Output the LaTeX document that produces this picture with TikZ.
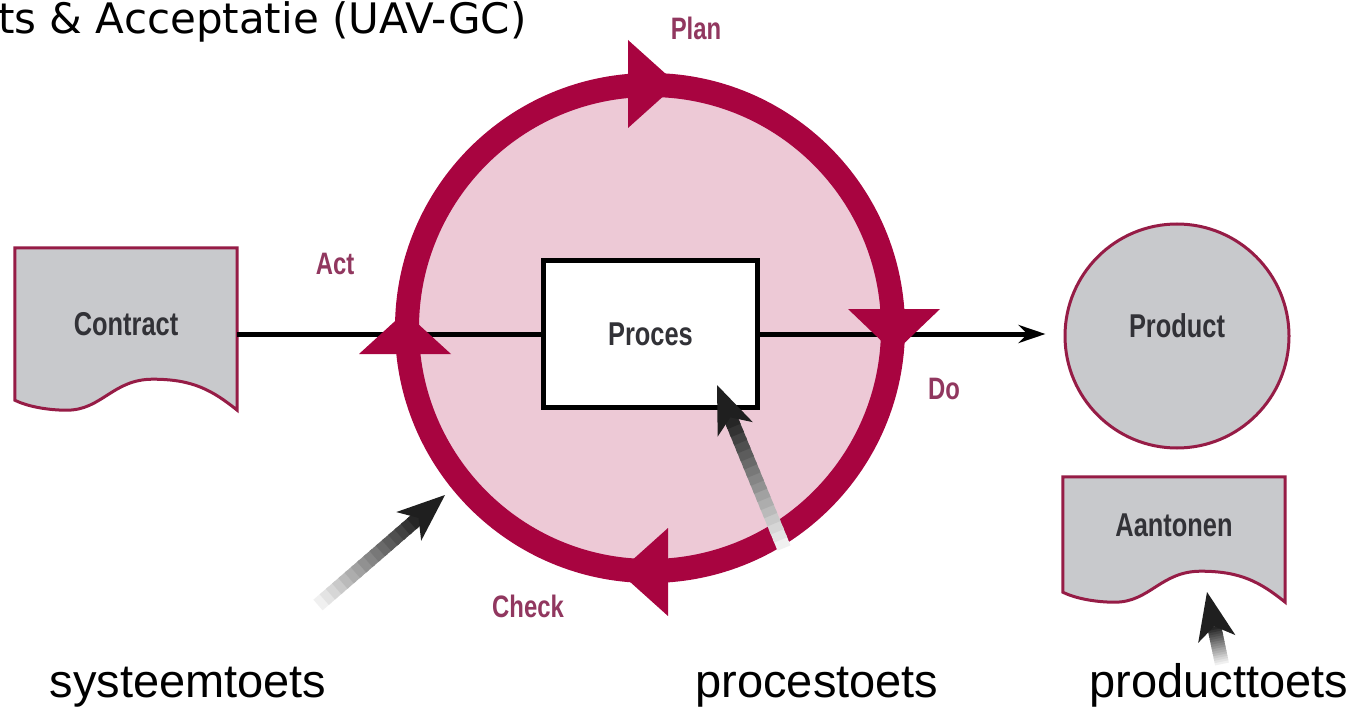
\documentclass[tikz,border=0pt]{standalone}
\usepackage{fontspec}
\setmainfont{Liberation Sans}
\newfontfamily\condfont[FakeStretch=0.77]{Liberation Sans}
\newfontfamily\titelfont{DejaVu Sans}
\usetikzlibrary{arrows.meta,calc,backgrounds}

\definecolor{pdcarood}{RGB}{168,4,64}
\definecolor{schijfroze}{RGB}{237,201,214}
\definecolor{docgrijs}{RGB}{200,201,204}
\definecolor{docrand}{RGB}{150,28,70}
\definecolor{tekstgrijs}{RGB}{50,50,55}
\definecolor{fasekleur}{RGB}{145,55,95}

\tikzset{
  docvorm/.style={fill=docgrijs, draw=docrand, line width=3pt},
  vaklabel/.style={font=\condfont\bfseries\fontsize{33}{36}\selectfont, text=tekstgrijs, inner sep=0pt},
  fase/.style={font=\condfont\bfseries\fontsize{31}{34}\selectfont, text=fasekleur, inner sep=0pt},
  toets/.style={font=\fontsize{47}{52}\selectfont, inner sep=0pt, anchor=base},
}

% document met golvende onderkant
\newcommand{\tekendoc}[1]{%
  \draw[docvorm] (#1.north west) -- (#1.north east) -- ($(#1.south east)+(0,10)$)
    .. controls +(-25,-20) and +(40,0) .. ($(#1.south west)+(138,-21)$)
    .. controls +(-40,0) and +(35,0) .. ($(#1.south west)+(52,10)$)
    .. controls +(-20,0) and +(12,6) .. (#1.south west) -- cycle;}

\begin{document}
\begin{tikzpicture}[x=1pt,y=-1pt,
    ringlijn/.style={draw=pdcarood, line width=24pt},
    lijn/.style={line width=5pt},
    schacht/.style={line width=14pt}]
  \useasboundingbox (0,0) rectangle (1359,711);

  \coordinate (centre) at (650,328);

  % vakken
  \node[vaklabel, minimum width=222pt, minimum height=152pt] (contract) at (126,324) {Contract};
  \node[vaklabel, minimum width=222pt, minimum height=115pt, text depth=18pt] (aantonen) at (1174,534.5) {Aantonen};
  \node[vaklabel, draw=black, fill=white, line width=5pt, minimum width=214pt, minimum height=146pt] (proces) at (650.5,334) {Proces};
  \node[vaklabel, circle, draw=docrand, fill=docgrijs, line width=3pt, minimum size=224pt, text depth=20pt] (product) at (1177,336) {Product};

  \begin{scope}[on background layer]
    \fill[white] (0,0) rectangle (1359,711);
    \fill[schijfroze] (centre) circle[radius=240];
    \tekendoc{contract}
    \tekendoc{aantonen}
  \end{scope}

  % doorgaande lijn
  \draw[lijn] (proces.west -| contract.east) -- (proces.west);
  \draw[lijn, -{Stealth[length=27pt,width=18pt]}, shorten >=18pt] (proces.east) -- (proces.east -| product.west);

  % PDCA-cirkel
  \draw[ringlijn] (centre) circle[radius=243];
  \fill[pdcarood] (628,40) -- (677,84) -- (628,128) -- cycle;
  \fill[pdcarood] (848,309) -- (940,309) -- (894,353) -- cycle;
  \fill[pdcarood] (668,528) -- (668,616) -- (619,572) -- cycle;
  \fill[pdcarood] (359,354) -- (405,312) -- (451,354) -- cycle;

  \node[fase] (plan) at (696,28) {Plan};
  \node[fase] (do) at (944,389) {Do};
  \node[fase] (check) at (528,606) {Check};
  \node[fase] (act) at (335,264) {Act};

  \node[font=\titelfont\fontsize{42}{45}\selectfont, anchor=base west, inner sep=0pt] (titel) at (-2,34) {ts \& Acceptatie (UAV-GC)};

  % toetsen
  \node[toets] (systeemtoets) at (188,697) {systeemtoets};
  \node[toets] (procestoets) at (817,697) {procestoets};
  \node[toets] (producttoets) at (1219,697) {producttoets};

  \coordinate (sys-staart) at (318,605);
  \coordinate (sys-punt) at (445,495);
  \coordinate (proc-staart) at (784,548);
  \coordinate (proc-punt) at (717,385);
  \coordinate (prod-staart) at (1222,664);
  \coordinate (prod-punt) at (1207,592);

  \foreach \van/\naar in {sys-staart/sys-punt, proc-staart/proc-punt, prod-staart/prod-punt} {
    \coordinate (hals) at ($(\naar)!36pt!(\van)$);
    \coordinate (basis) at ($(\naar)!48pt!(\van)$);
    \foreach \i in {0,...,15} {
      \pgfmathtruncatemacro{\grijs}{6+\i*5.3}
      \draw[schacht, black!\grijs] ($(\van)!\i/16!(hals)$) -- ($(\van)!{(\i+1.4)/16}!(hals)$);
    }
    \fill[black!88] (\naar) -- ($(basis)!19pt!90:(\naar)$) -- ($(\naar)!35pt!(\van)$)
      -- ($(basis)!19pt!-90:(\naar)$) -- cycle;
  }
\end{tikzpicture}
\end{document}
